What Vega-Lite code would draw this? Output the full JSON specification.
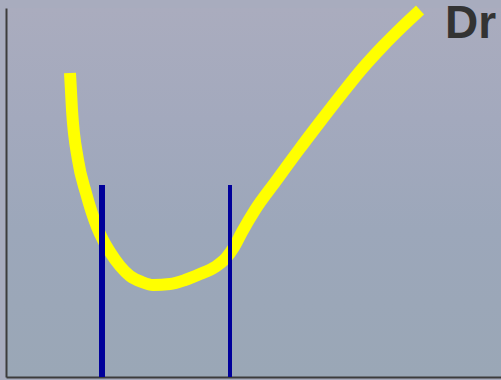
{
  "$schema": "https://vega.github.io/schema/vega-lite/v6.json",
  "width": 495,
  "height": 369,
  "padding": {"left": 6, "top": 8, "right": 0, "bottom": 3},
  "autosize": {"type": "none"},
  "background": "#a8acbe",
  "config": {
    "view": {
      "stroke": null,
      "fill": {
        "gradient": "linear",
        "x1": 0, "y1": 0, "x2": 0, "y2": 1,
        "stops": [
          {"offset": 0, "color": "#aaacbe"},
          {"offset": 0.3, "color": "#a3a9bd"},
          {"offset": 0.6, "color": "#9ca7ba"},
          {"offset": 1, "color": "#9aa7b6"}
        ]
      }
    },
    "axis": {
      "domainColor": "#3c3c3c",
      "domainWidth": 2,
      "ticks": false,
      "labels": false,
      "grid": false,
      "title": null
    }
  },
  "layer": [
    {
      "data": {"values": [
        {"x": 64, "y": 304}, {"x": 66, "y": 267}, {"x": 72, "y": 217}, {"x": 80, "y": 184},
        {"x": 91, "y": 150}, {"x": 97, "y": 137}, {"x": 104, "y": 125}, {"x": 114, "y": 111},
        {"x": 124, "y": 101}, {"x": 136, "y": 95}, {"x": 147, "y": 92}, {"x": 164, "y": 93},
        {"x": 179, "y": 97}, {"x": 194, "y": 103}, {"x": 209, "y": 110}, {"x": 220, "y": 119},
        {"x": 228, "y": 130}, {"x": 236, "y": 145}, {"x": 249, "y": 167}, {"x": 270, "y": 196},
        {"x": 292, "y": 226}, {"x": 314, "y": 255}, {"x": 335, "y": 282}, {"x": 356, "y": 308},
        {"x": 377, "y": 331}, {"x": 396, "y": 350}, {"x": 414, "y": 367}
      ]},
      "mark": {"type": "line", "color": "#ffff00", "strokeWidth": 12, "strokeCap": "butt", "interpolate": "monotone", "clip": false},
      "encoding": {
        "x": {"field": "x", "type": "quantitative", "scale": {"domain": [0, 495], "nice": false, "zero": false}, "axis": {"domain": true}},
        "y": {"field": "y", "type": "quantitative", "scale": {"domain": [0, 369], "nice": false, "zero": false}, "axis": {"domain": true}}
      }
    },
    {
      "data": {"values": [{"x": 96, "y": 192, "y0": 0}]},
      "mark": {"type": "rule", "color": "#00009a", "strokeWidth": 6},
      "encoding": {
        "x": {"field": "x", "type": "quantitative"},
        "y": {"field": "y", "type": "quantitative"},
        "y2": {"field": "y0"}
      }
    },
    {
      "data": {"values": [{"x": 224, "y": 192, "y0": 0}]},
      "mark": {"type": "rule", "color": "#00009a", "strokeWidth": 4},
      "encoding": {
        "x": {"field": "x", "type": "quantitative"},
        "y": {"field": "y", "type": "quantitative"},
        "y2": {"field": "y0"}
      }
    },
    {
      "data": {"values": [{"x": 439, "y": 339, "label": "Dr"}]},
      "mark": {"type": "text", "align": "left", "baseline": "alphabetic", "font": "Liberation Sans", "fontWeight": "bold", "fontSize": 46, "color": "#333333", "clip": false},
      "encoding": {
        "x": {"field": "x", "type": "quantitative"},
        "y": {"field": "y", "type": "quantitative"},
        "text": {"field": "label"}
      }
    }
  ]
}
